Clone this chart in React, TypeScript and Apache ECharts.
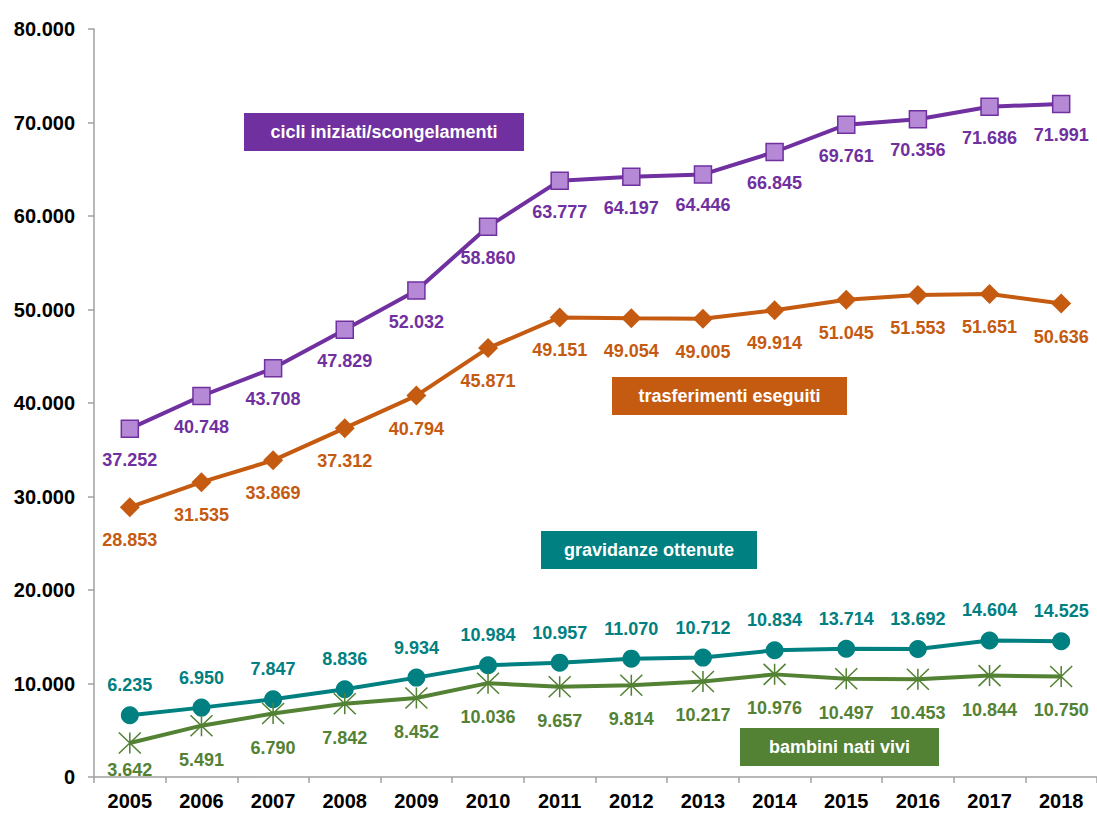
import React, { useEffect, useRef } from "react";
import * as echarts from "echarts";

const years = ["2005", "2006", "2007", "2008", "2009", "2010", "2011", "2012", "2013", "2014", "2015", "2016", "2017", "2018"];
const cicli = [37252, 40748, 43708, 47829, 52032, 58860, 63777, 64197, 64446, 66845, 69761, 70356, 71686, 71991];
const trasferimenti = [28853, 31535, 33869, 37312, 40794, 45871, 49151, 49054, 49005, 49914, 51045, 51553, 51651, 50636];
// plotted positions of the "gravidanze" markers
const gravidanze = [6600, 7420, 8310, 9380, 10630, 11950, 12230, 12660, 12770, 13550, 13714, 13692, 14604, 14525];
// printed labels of the "gravidanze" series
const gravidanzeLabels = [6235, 6950, 7847, 8836, 9934, 10984, 10957, 11070, 10712, 10834, 13714, 13692, 14604, 14525];
const bambini = [3642, 5491, 6790, 7842, 8452, 10036, 9657, 9814, 10217, 10976, 10497, 10453, 10844, 10750];

const seriesNames = ["cicli iniziati/scongelamenti", "trasferimenti eseguiti", "gravidanze ottenute", "bambini nati vivi"];

const PURPLE = "#7030A0";
const PURPLE_LIGHT = "#B589D6";
const ORANGE = "#C55A11";
const TEAL = "#008080";
const GREEN = "#548235";
const FONT = "Liberation Sans, Arial, sans-serif";

function fmt(n: number): string {
  const s = Math.round(n).toString();
  return s.replace(/\B(?=(\d{3})+(?!\d))/g, ".");
}

function labelBox(x: number, y: number, w: number, h: number, color: string, text: string) {
  return {
    type: "group",
    children: [
      { type: "rect", shape: { x, y, width: w, height: h }, style: { fill: color } },
      {
        type: "text",
        x: x + w / 2,
        y: y + h / 2,
        style: {
          text,
          fill: "#ffffff",
          font: `bold 18px ${FONT}`,
          align: "center",
          verticalAlign: "middle",
        },
      },
    ],
  };
}

export default function App() {
  const ref = useRef<HTMLDivElement>(null);
  useEffect(() => {
    if (!ref.current) return;
    const chart = echarts.init(ref.current, undefined, { renderer: "svg" });
    const baseLabel = { show: true, position: "inside", fontFamily: FONT, fontWeight: "bold", fontSize: 18 };
    chart.setOption({
      animation: false,
      backgroundColor: "#ffffff",
      grid: { left: 94, top: 29, width: 1008, height: 748, containLabel: false },
      xAxis: {
        type: "category",
        data: years,
        boundaryGap: true,
        axisLine: { show: true, lineStyle: { color: "#A0A0A0", width: 1.5 } },
        axisTick: { show: true, interval: 0, length: 6, alignWithLabel: false, lineStyle: { color: "#A0A0A0", width: 1.5 } },
        axisLabel: { color: "#000", fontFamily: FONT, fontWeight: "bold", fontSize: 20, margin: 14, interval: 0 },
        splitLine: { show: false },
      },
      yAxis: {
        type: "value",
        min: 0,
        max: 80000,
        interval: 10000,
        axisLine: { show: true, lineStyle: { color: "#A0A0A0", width: 1.5 } },
        axisTick: { show: true, length: 6, lineStyle: { color: "#A0A0A0", width: 1.5 } },
        axisLabel: { color: "#000", fontFamily: FONT, fontWeight: "bold", fontSize: 20, margin: 19, formatter: (v: number) => fmt(v) },
        splitLine: { show: false },
      },
      series: [
        {
          name: seriesNames[0],
          type: "line",
          data: cicli,
          symbol: "rect",
          symbolSize: 17,
          lineStyle: { color: PURPLE, width: 4 },
          itemStyle: { color: PURPLE_LIGHT, borderColor: PURPLE, borderWidth: 1.5 },
          label: { ...baseLabel, color: PURPLE, offset: [0, 31], formatter: (p: any) => fmt(p.value) },
        },
        {
          name: seriesNames[1],
          type: "line",
          data: trasferimenti,
          symbol: "diamond",
          symbolSize: 20,
          lineStyle: { color: ORANGE, width: 4 },
          itemStyle: { color: ORANGE, borderWidth: 0 },
          label: { ...baseLabel, color: ORANGE, offset: [0, 33], formatter: (p: any) => fmt(p.value) },
        },
        {
          name: seriesNames[2],
          type: "line",
          data: gravidanze,
          symbol: "circle",
          symbolSize: 18,
          lineStyle: { color: TEAL, width: 4 },
          itemStyle: { color: TEAL, borderWidth: 0 },
          label: { ...baseLabel, color: TEAL, offset: [0, -30], formatter: (p: any) => fmt(gravidanzeLabels[p.dataIndex]) },
        },
        {
          name: seriesNames[3],
          type: "line",
          data: bambini.map((v, i) => (i === 0 ? { value: v, label: { offset: [0, 27] } } : v)),
          symbol: "path://M0 0L20 20M20 0L0 20M10 0L10 20",
          symbolSize: [22, 21],
          lineStyle: { color: GREEN, width: 4 },
          itemStyle: { color: "rgba(0,0,0,0)", borderColor: GREEN, borderWidth: 1.5 },
          label: { ...baseLabel, color: GREEN, offset: [0, 34], formatter: (p: any) => fmt(p.value) },
        },
      ],
      graphic: [
        labelBox(244, 113, 280, 38, PURPLE, seriesNames[0]),
        labelBox(612, 377, 235, 38, ORANGE, seriesNames[1]),
        labelBox(541, 531, 216, 38, TEAL, seriesNames[2]),
        labelBox(740, 728, 199, 38, GREEN, seriesNames[3]),
      ],
    });
    return () => chart.dispose();
  }, []);
  return (
    <div
      ref={ref}
      style={{ position: "fixed", left: 0, top: 0, width: 1097, height: 813, background: "#fff" }}
    />
  );
}
